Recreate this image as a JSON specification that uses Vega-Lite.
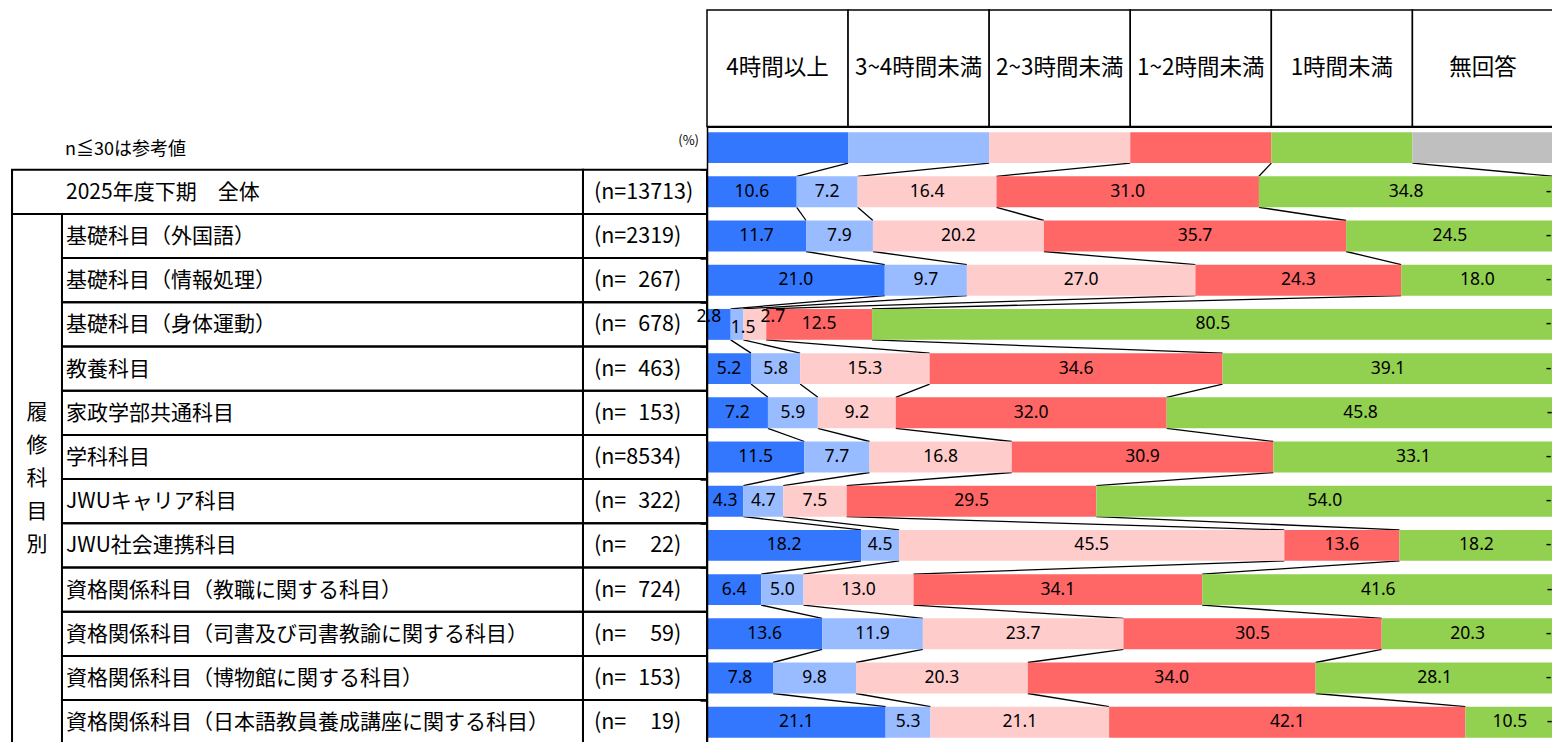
{
  "$schema": "https://vega.github.io/schema/vega-lite/v6.json",
  "width": 845,
  "height": 616,
  "autosize": {"type": "none"},
  "padding": {"left": 707, "top": 125.5, "right": 0, "bottom": 0},
  "background": "white",
  "config": {"view": {"stroke": null}},
  "datasets": {
    "cats": [
      {"key": "h4", "cat": "4時間以上", "ci": 0},
      {"key": "h34", "cat": "3~4時間未満", "ci": 1},
      {"key": "h23", "cat": "2~3時間未満", "ci": 2},
      {"key": "h12", "cat": "1~2時間未満", "ci": 3},
      {"key": "h1", "cat": "1時間未満", "ci": 4},
      {"key": "na", "cat": "無回答", "ci": 5}
    ],
    "wide": [
      {"row": "凡例", "ri": 0, "nlab": "", "h4": 16.6667, "h34": 16.6667, "h23": 16.6667, "h12": 16.6667, "h1": 16.6667, "na": 16.6667},
      {"row": "2025年度下期　全体", "ri": 1, "nlab": "(n=13713)", "h4": 10.6, "h34": 7.2, "h23": 16.4, "h12": 31.0, "h1": 34.8, "na": 0},
      {"row": "基礎科目（外国語）", "ri": 2, "nlab": "(n=2319)", "h4": 11.7, "h34": 7.9, "h23": 20.2, "h12": 35.7, "h1": 24.5, "na": 0},
      {"row": "基礎科目（情報処理）", "ri": 3, "nlab": "(n=\u2007267)", "h4": 21.0, "h34": 9.7, "h23": 27.0, "h12": 24.3, "h1": 18.0, "na": 0},
      {"row": "基礎科目（身体運動）", "ri": 4, "nlab": "(n=\u2007678)", "h4": 2.8, "h34": 1.5, "h23": 2.7, "h12": 12.5, "h1": 80.5, "na": 0},
      {"row": "教養科目", "ri": 5, "nlab": "(n=\u2007463)", "h4": 5.2, "h34": 5.8, "h23": 15.3, "h12": 34.6, "h1": 39.1, "na": 0},
      {"row": "家政学部共通科目", "ri": 6, "nlab": "(n=\u2007153)", "h4": 7.2, "h34": 5.9, "h23": 9.2, "h12": 32.0, "h1": 45.8, "na": 0},
      {"row": "学科科目", "ri": 7, "nlab": "(n=8534)", "h4": 11.5, "h34": 7.7, "h23": 16.8, "h12": 30.9, "h1": 33.1, "na": 0},
      {"row": "JWUキャリア科目", "ri": 8, "nlab": "(n=\u2007322)", "h4": 4.3, "h34": 4.7, "h23": 7.5, "h12": 29.5, "h1": 54.0, "na": 0},
      {"row": "JWU社会連携科目", "ri": 9, "nlab": "(n=\u2007\u200722)", "h4": 18.2, "h34": 4.5, "h23": 45.5, "h12": 13.6, "h1": 18.2, "na": 0},
      {"row": "資格関係科目（教職に関する科目）", "ri": 10, "nlab": "(n=\u2007724)", "h4": 6.4, "h34": 5.0, "h23": 13.0, "h12": 34.1, "h1": 41.6, "na": 0},
      {"row": "資格関係科目（司書及び司書教諭に関する科目）", "ri": 11, "nlab": "(n=\u2007\u200759)", "h4": 13.6, "h34": 11.9, "h23": 23.7, "h12": 30.5, "h1": 20.3, "na": 0},
      {"row": "資格関係科目（博物館に関する科目）", "ri": 12, "nlab": "(n=\u2007153)", "h4": 7.8, "h34": 9.8, "h23": 20.3, "h12": 34.0, "h1": 28.1, "na": 0},
      {"row": "資格関係科目（日本語教員養成講座に関する科目）", "ri": 13, "nlab": "(n=\u2007\u200719)", "h4": 21.1, "h34": 5.3, "h23": 21.1, "h12": 42.1, "h1": 10.5, "na": 0}
    ]
  },
  "encoding": {
    "y": {
      "field": "row",
      "type": "nominal",
      "scale": {
        "domain": ["凡例", "2025年度下期　全体", "基礎科目（外国語）", "基礎科目（情報処理）", "基礎科目（身体運動）", "教養科目", "家政学部共通科目", "学科科目", "JWUキャリア科目", "JWU社会連携科目", "資格関係科目（教職に関する科目）", "資格関係科目（司書及び司書教諭に関する科目）", "資格関係科目（博物館に関する科目）", "資格関係科目（日本語教員養成講座に関する科目）"],
        "range": [0, 618.8],
        "paddingInner": 0,
        "paddingOuter": 0
      },
      "axis": {
        "title": null, "labels": false, "ticks": true, "tickBand": "extent", "tickSize": 7, "tickColor": "black", "tickWidth": 1.5, "domainColor": "black", "domainWidth": 1.5, "grid": false,
        "values": ["2025年度下期　全体", "基礎科目（外国語）", "基礎科目（情報処理）", "基礎科目（身体運動）", "教養科目", "家政学部共通科目", "学科科目", "JWUキャリア科目", "JWU社会連携科目", "資格関係科目（教職に関する科目）", "資格関係科目（司書及び司書教諭に関する科目）", "資格関係科目（博物館に関する科目）", "資格関係科目（日本語教員養成講座に関する科目）"]
      }
    }
  },
  "layer": [
    {
      "data": {"name": "wide"},
      "layer": [
        {
          "transform": [{"filter": "datum.ri >= 2"}],
          "mark": {"type": "rect", "fill": "transparent", "stroke": "black", "strokeWidth": 2},
          "encoding": {
            "x": {"datum": -76.2, "type": "quantitative", "scale": {"domain": [0, 100], "range": [0, 846.5], "nice": false, "zero": false}, "axis": null},
            "x2": {"datum": -14.65}
          }
        },
        {
          "transform": [{"filter": "datum.ri >= 1"}],
          "mark": {"type": "rect", "fill": "transparent", "stroke": "black", "strokeWidth": 2},
          "encoding": {
            "x": {"datum": -14.65, "type": "quantitative", "scale": {"domain": [0, 100], "range": [0, 846.5], "nice": false, "zero": false}, "axis": null},
            "x2": {"datum": 0}
          }
        },
        {
          "transform": [{"filter": "datum.ri == 1"}],
          "mark": {"type": "rect", "fill": "transparent", "stroke": "black", "strokeWidth": 2},
          "encoding": {
            "x": {"datum": -82.1, "type": "quantitative", "scale": {"domain": [0, 100], "range": [0, 846.5], "nice": false, "zero": false}, "axis": null},
            "x2": {"datum": -14.65}
          }
        },
        {
          "transform": [{"filter": "datum.ri == 0"}],
          "mark": {"type": "rule", "color": "black", "strokeWidth": 3, "yOffset": 1},
          "encoding": {
            "x": {"datum": 0, "type": "quantitative", "scale": {"domain": [0, 100], "range": [0, 846.5], "nice": false, "zero": false}, "axis": null},
            "x2": {"datum": 100},
            "y": {"field": "row", "type": "nominal", "bandPosition": 0}
          }
        },
        {
          "transform": [{"filter": "datum.ri >= 1"}],
          "mark": {"type": "text", "align": "left", "baseline": "middle", "font": "Noto Sans CJK JP", "fontSize": 21, "color": "black", "dy": 1},
          "encoding": {
            "x": {"datum": -75.72, "type": "quantitative", "scale": {"domain": [0, 100], "range": [0, 846.5], "nice": false, "zero": false}, "axis": null},
            "text": {"field": "row"}
          }
        },
        {
          "transform": [{"filter": "datum.ri >= 1"}],
          "mark": {"type": "text", "align": "left", "baseline": "middle", "font": "Noto Sans CJK JP", "fontSize": 21.5, "color": "black", "dy": 1},
          "encoding": {
            "x": {"datum": -13.35, "type": "quantitative", "scale": {"domain": [0, 100], "range": [0, 846.5], "nice": false, "zero": false}, "axis": null},
            "text": {"field": "nlab"}
          }
        }
      ]
    },
    {
      "data": {"name": "wide"},
      "transform": [
        {"fold": ["h4", "h34", "h23", "h12", "h1", "na"], "as": ["key", "value"]},
        {"lookup": "key", "from": {"data": {"name": "cats"}, "key": "key", "fields": ["cat", "ci"]}},
        {"stack": "value", "groupby": ["row"], "sort": [{"field": "ci", "order": "ascending"}], "as": ["x0", "x1"]}
      ],
      "layer": [
        {
          "transform": [
            {"window": [{"op": "lead", "field": "x1", "as": "x1n"}, {"op": "lead", "field": "row", "as": "rown"}], "groupby": ["cat"], "sort": [{"field": "ri", "order": "ascending"}]},
            {"filter": "datum.rown != null && datum.ci < 5"}
          ],
          "mark": {"type": "rule", "color": "black", "strokeWidth": 1.3, "yOffset": 15.5, "y2Offset": -15.5},
          "encoding": {
            "x": {"field": "x1", "type": "quantitative", "scale": {"domain": [0, 100], "range": [0, 846.5], "nice": false, "zero": false}, "axis": null},
            "x2": {"field": "x1n"},
            "y": {"field": "row", "type": "nominal", "bandPosition": 0.5},
            "y2": {"field": "rown"}
          }
        },
        {
          "transform": [{"filter": "datum.ri == 0"}],
          "mark": {"type": "bar", "height": 116.5, "yOffset": -79.35, "fill": "white", "stroke": "black", "strokeWidth": 1.5},
          "encoding": {
            "x": {"field": "x0", "type": "quantitative", "scale": {"domain": [0, 100], "range": [0, 846.5], "nice": false, "zero": false}, "axis": null},
            "x2": {"field": "x1"}
          }
        },
        {
          "mark": {"type": "bar", "height": {"band": 0.7}},
          "encoding": {
            "x": {"field": "x0", "type": "quantitative", "scale": {"domain": [0, 100], "range": [0, 846.5], "nice": false, "zero": false}, "axis": null},
            "x2": {"field": "x1"},
            "color": {
              "field": "cat",
              "type": "nominal",
              "scale": {"domain": ["4時間以上", "3~4時間未満", "2~3時間未満", "1~2時間未満", "1時間未満", "無回答"], "range": ["#3377FF", "#99BBFF", "#FFCCCC", "#FF6666", "#92D050", "#BFBFBF"]},
              "legend": null
            }
          }
        },
        {
          "transform": [
            {"fold": ["x0", "x1"], "as": ["edge", "pos"]},
            {"aggregate": [{"op": "mean", "field": "pos", "as": "mid"}], "groupby": ["row", "ri", "cat", "ci", "value"]}
          ],
          "layer": [
            {
              "transform": [{"filter": "datum.ri == 0"}],
              "mark": {"type": "text", "align": "center", "baseline": "middle", "font": "Noto Sans CJK JP", "fontSize": 22.5, "color": "black", "yOffset": -79.6},
              "encoding": {
                "x": {"field": "mid", "type": "quantitative", "scale": {"domain": [0, 100], "range": [0, 846.5], "nice": false, "zero": false}, "axis": null},
                "text": {"field": "cat"}
              }
            },
            {
              "transform": [{"filter": "datum.ri >= 1 && datum.value >= 4"}],
              "mark": {"type": "text", "align": "center", "baseline": "middle", "font": "Noto Sans", "fontSize": 17.5, "color": "black"},
              "encoding": {
                "x": {"field": "mid", "type": "quantitative", "scale": {"domain": [0, 100], "range": [0, 846.5], "nice": false, "zero": false}, "axis": null},
                "text": {"field": "value", "type": "quantitative", "format": ".1f"}
              }
            },
            {
              "transform": [{"filter": "datum.ri >= 1 && datum.value > 0 && datum.value < 4 && datum.ci == 0"}],
              "mark": {"type": "text", "align": "center", "baseline": "middle", "font": "Noto Sans", "fontSize": 17.5, "color": "black", "dx": -10, "dy": -7},
              "encoding": {
                "x": {"field": "mid", "type": "quantitative", "scale": {"domain": [0, 100], "range": [0, 846.5], "nice": false, "zero": false}, "axis": null},
                "text": {"field": "value", "type": "quantitative", "format": ".1f"}
              }
            },
            {
              "transform": [{"filter": "datum.ri >= 1 && datum.value > 0 && datum.value < 4 && datum.ci == 1"}],
              "mark": {"type": "text", "align": "center", "baseline": "middle", "font": "Noto Sans", "fontSize": 17.5, "color": "black", "dx": 6, "dy": 4},
              "encoding": {
                "x": {"field": "mid", "type": "quantitative", "scale": {"domain": [0, 100], "range": [0, 846.5], "nice": false, "zero": false}, "axis": null},
                "text": {"field": "value", "type": "quantitative", "format": ".1f"}
              }
            },
            {
              "transform": [{"filter": "datum.ri >= 1 && datum.value > 0 && datum.value < 4 && datum.ci == 2"}],
              "mark": {"type": "text", "align": "center", "baseline": "middle", "font": "Noto Sans", "fontSize": 17.5, "color": "black", "dx": 18, "dy": -7},
              "encoding": {
                "x": {"field": "mid", "type": "quantitative", "scale": {"domain": [0, 100], "range": [0, 846.5], "nice": false, "zero": false}, "axis": null},
                "text": {"field": "value", "type": "quantitative", "format": ".1f"}
              }
            }
          ]
        },
        {
          "transform": [{"filter": "datum.ri >= 1 && datum.ci == 5"}],
          "mark": {"type": "text", "text": "-", "align": "right", "baseline": "middle", "font": "Noto Sans", "fontSize": 17.5, "color": "black", "dx": -2},
          "encoding": {
            "x": {"field": "x1", "type": "quantitative", "scale": {"domain": [0, 100], "range": [0, 846.5], "nice": false, "zero": false}, "axis": null}
          }
        }
      ]
    },
    {
      "data": {"values": [{}]},
      "mark": {"type": "rule", "color": "black", "strokeWidth": 2, "y2Offset": 60},
      "encoding": {
        "x": {"datum": -82.1, "type": "quantitative", "scale": {"domain": [0, 100], "range": [0, 846.5], "nice": false, "zero": false}, "axis": null},
        "y": {"datum": "2025年度下期　全体", "type": "nominal", "bandPosition": 0},
        "y2": {"datum": "資格関係科目（日本語教員養成講座に関する科目）"}
      }
    },
    {
      "data": {"values": [{}]},
      "mark": {"type": "text", "text": ["履", "修", "科", "目", "別"], "lineHeight": 33, "align": "center", "baseline": "middle", "font": "Noto Sans CJK JP", "fontSize": 21, "color": "black", "yOffset": -66},
      "encoding": {
        "x": {"datum": -79.15, "type": "quantitative", "scale": {"domain": [0, 100], "range": [0, 846.5], "nice": false, "zero": false}, "axis": null},
        "y": {"datum": "JWUキャリア科目", "type": "nominal", "bandPosition": 0}
      }
    },
    {
      "data": {"values": [{}]},
      "mark": {"type": "text", "text": "n≦30は参考値", "align": "left", "baseline": "middle", "font": "Noto Sans CJK JP", "fontSize": 18, "color": "black", "yOffset": 2.4},
      "encoding": {
        "x": {"datum": -75.84, "type": "quantitative", "scale": {"domain": [0, 100], "range": [0, 846.5], "nice": false, "zero": false}, "axis": null},
        "y": {"datum": "凡例", "type": "nominal"}
      }
    },
    {
      "data": {"values": [{}]},
      "mark": {"type": "text", "text": "(%)", "align": "right", "baseline": "middle", "font": "Noto Sans CJK JP", "fontSize": 13, "color": "black", "yOffset": -6.6},
      "encoding": {
        "x": {"datum": -0.945, "type": "quantitative", "scale": {"domain": [0, 100], "range": [0, 846.5], "nice": false, "zero": false}, "axis": null},
        "y": {"datum": "凡例", "type": "nominal"}
      }
    }
  ]
}
